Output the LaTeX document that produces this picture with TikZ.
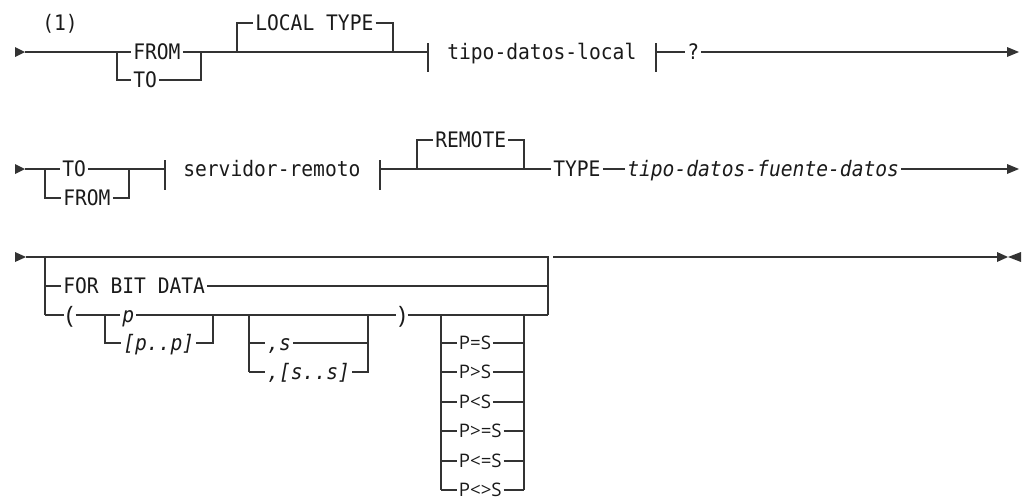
\documentclass[tikz,border=0pt]{standalone}
\usepackage{fontspec}
\newfontfamily\monofont[FakeStretch=0.92]{DejaVu Sans Mono}
\newfontfamily\relfont{Open Sans}
\definecolor{linec}{HTML}{333333}
\definecolor{textc}{HTML}{1A1A1A}
\begin{document}
\begin{tikzpicture}[x=0.75pt,y=-0.75pt,
  rail/.style={draw=linec,line width=1pt},
  kw/.style={font=\monofont\fontsize{16pt}{18pt}\selectfont, text=textc, inner xsep=1.5pt, inner ysep=0pt, text height=11.66pt, text depth=0pt, anchor=west},
  var/.style={kw, font=\monofont\itshape\fontsize{16pt}{18pt}\selectfont},
  rel/.style={font=\relfont\fontsize{14pt}{16pt}\selectfont, text=textc, inner xsep=1.2pt, inner ysep=0pt, text height=10pt, text depth=0pt, anchor=west},
  paren/.style={font=\relfont\fontsize{18pt}{20pt}\selectfont, text=textc, inner xsep=1.5pt, inner ysep=0pt, text height=12.9pt, text depth=0pt, anchor=west},
  tipr/.style={fill=linec}
]
\useasboundingbox (0,0) rectangle (1024,500);

% ---------------- Row 1 ----------------
\node[kw] (note) at (40,23) {(1)};
\fill[tipr] (15,47) -- (25,52) -- (15,57) -- cycle;
\coordinate (r1s) at (25,52);
\coordinate (r1a) at (117,52);
\coordinate (r1a2) at (117,80);
\node[kw] (from1) at (131,52) {FROM};
\node[kw] (to1) at (131,80) {TO};
\coordinate (r1b) at (201,52);
\coordinate (r1b2) at (201,80);
\draw[rail] (r1s) -- (from1.west);
\draw[rail] (from1.east) -- (r1b);
\draw[rail] (r1a) -- (r1a2) -- (to1.west);
\draw[rail] (to1.east) -- (r1b2) -- (r1b);
\coordinate (r1c) at (237,52);
\coordinate (r1c2) at (237,23);
\node[kw] (lt) at (253,23) {LOCAL TYPE};
\coordinate (r1d2) at (393,23);
\coordinate (r1d) at (393,52);
\draw[rail] (r1c) -- (r1c2) -- (lt.west);
\draw[rail] (lt.east) -- (r1d2) -- (r1d);
\coordinate (t1) at (428,52);
\coordinate (t1u) at (428,43);
\coordinate (t1d) at (428,72);
\draw[rail] (r1b) -- (t1);
\draw[rail] (t1u) -- (t1d);
\node[kw] (tdl) at (445,52) {tipo-datos-local};
\coordinate (t2) at (656,52);
\coordinate (t2u) at (656,43);
\coordinate (t2d) at (656,72);
\draw[rail] (t2u) -- (t2d);
\node[kw] (q) at (685,52) {?};
\coordinate (e1) at (1008,52);
\draw[rail] (t2) -- (q.west);
\draw[rail] (q.east) -- (e1);
\fill[tipr] (1007,47) -- (1019,52) -- (1007,57) -- cycle;

% ---------------- Row 2 ----------------
\fill[tipr] (15,164) -- (25,169) -- (15,174) -- cycle;
\coordinate (r2s) at (25,169);
\coordinate (r2a) at (45,169);
\coordinate (r2a2) at (45,198);
\node[kw] (to2) at (60,169) {TO};
\node[kw] (from2) at (61,198) {FROM};
\coordinate (r2b) at (129,169);
\coordinate (r2b2) at (129,198);
\draw[rail] (r2s) -- (to2.west);
\draw[rail] (to2.east) -- (r2b);
\draw[rail] (r2a) -- (r2a2) -- (from2.west);
\draw[rail] (from2.east) -- (r2b2) -- (r2b);
\coordinate (t3) at (165,169);
\coordinate (t3u) at (165,160);
\coordinate (t3d) at (165,190);
\draw[rail] (r2b) -- (t3);
\draw[rail] (t3u) -- (t3d);
\node[kw] (srv) at (181,169) {servidor-remoto};
\coordinate (t4) at (380,169);
\coordinate (t4u) at (380,160);
\coordinate (t4d) at (380,190);
\draw[rail] (t4u) -- (t4d);
\coordinate (r2c) at (417,169);
\coordinate (r2c2) at (417,140);
\node[kw] (rem) at (433,140) {REMOTE};
\coordinate (r2d2) at (524,140);
\coordinate (r2d) at (524,169);
\draw[rail] (r2c) -- (r2c2) -- (rem.west);
\draw[rail] (rem.east) -- (r2d2) -- (r2d);
\node[kw] (type) at (551,169) {TYPE};
\draw[rail] (t4) -- (type.west);
\node[var] (tdf) at (625,169) {tipo-datos-fuente-datos};
\draw[rail] (type.east) -- (tdf.west);
\coordinate (e2) at (1008,169);
\draw[rail] (tdf.east) -- (e2);
\fill[tipr] (1007,164) -- (1019,169) -- (1007,174) -- cycle;

% ---------------- Row 3 ----------------
\fill[tipr] (15,252) -- (26,257) -- (15,262) -- cycle;
\coordinate (r3s) at (26,257);
\coordinate (r3a) at (45,257);
\coordinate (r3a2) at (45,286);
\coordinate (r3a3) at (45,315);
\coordinate (r3z) at (548,257);
\coordinate (r3z2) at (548,286);
\coordinate (r3z3) at (548,315);
\draw[rail] (r3s) -- (r3z) -- (r3z3);
\draw[rail] (r3a) -- (r3a3);
\node[kw] (fbd) at (61,286) {FOR BIT DATA};
\draw[rail] (r3a2) -- (fbd.west);
\draw[rail] (fbd.east) -- (r3z2);
\node[paren] (lp) at (64,315) {(};
\draw[rail] (r3a3) -- (lp.west);
% p / [p..p]
\coordinate (r3b) at (105,315);
\coordinate (r3b2) at (105,343);
\node[var] (p) at (120,315) {p};
\node[var] (pp) at (121,343) {[p..p]};
\coordinate (r3c) at (213,315);
\coordinate (r3c2) at (213,343);
\draw[rail] (lp.east) -- (p.west);
\draw[rail] (r3b) -- (r3b2) -- (pp.west);
\draw[rail] (pp.east) -- (r3c2) -- (r3c);
% ,s / ,[s..s]
\coordinate (r3d) at (249,315);
\coordinate (r3d2) at (249,343);
\coordinate (r3d3) at (249,372);
\node[var] (s1) at (265,343) {,s};
\node[var] (s2) at (265,372) {,[s..s]};
\coordinate (r3e) at (368,315);
\coordinate (r3e2) at (368,343);
\coordinate (r3e3) at (368,372);
\draw[rail] (r3d) -- (r3d3);
\draw[rail] (r3d2) -- (s1.west);
\draw[rail] (r3d3) -- (s2.west);
\draw[rail] (s1.east) -- (r3e2);
\draw[rail] (s2.east) -- (r3e3) -- (r3e);
\node[paren] (rp) at (396,315) {)};
\draw[rail] (p.east) -- (rp.west);
\draw[rail] (rp.east) -- (r3z3);
% relation block
\coordinate (r3f) at (441,315);
\coordinate (r3f6) at (441,490);
\coordinate (r3g) at (524,315);
\coordinate (r3g6) at (524,490);
\draw[rail] (r3f) -- (r3f6);
\draw[rail] (r3g) -- (r3g6);
\foreach \nm/\yy/\tx in {ra/343/{P=S}, rb/372/{P>S}, rc/402/{P<S}, rd/431/{P>=S}, re/461/{P<=S}, rf/490/{P<>S}}{
  \node[rel] (\nm) at (457,\yy) {\tx};
  \coordinate (\nm l) at (441,\yy);
  \coordinate (\nm r) at (524,\yy);
  \draw[rail] (\nm l) -- (\nm.west);
  \draw[rail] (\nm.east) -- (\nm r);
}
% end of statement
\coordinate (r3h) at (553,257);
\coordinate (r3h2) at (578,257);
\coordinate (e3) at (998,257);
\draw[rail] (r3h) -- (e3);
\draw[draw=linec,line width=1.7pt] (r3h) -- (r3h2);
\fill[tipr] (997,252) -- (1008,257) -- (997,262) -- cycle;
\fill[tipr] (1021,252) -- (1008,257) -- (1021,262) -- cycle;
\end{tikzpicture}
\end{document}
